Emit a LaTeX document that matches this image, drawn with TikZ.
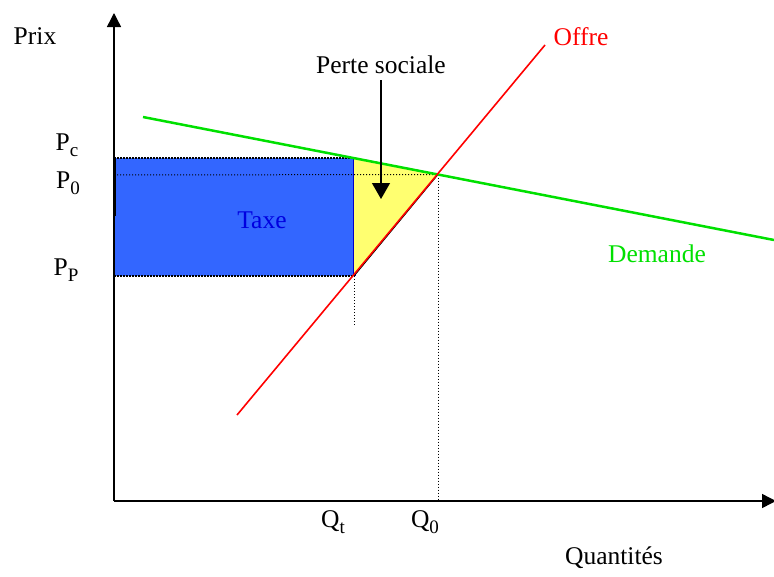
\documentclass[tikz,border=0pt]{standalone}
\usepackage{fontspec}
\setmainfont{Liberation Serif}
\usetikzlibrary{arrows.meta}
\definecolor{taxblue}{HTML}{3366FF}
\definecolor{taxtext}{HTML}{0000E0}
\definecolor{edgeblue}{HTML}{0000C8}
\definecolor{dwlyellow}{HTML}{FFFF70}
\definecolor{demgreen}{HTML}{00E000}
\definecolor{offred}{HTML}{FF0000}
\newcommand{\lowsub}[1]{\raisebox{-0.5ex}{\fontsize{19}{19}\selectfont #1}}
\tikzset{
  lbl/.style={inner sep=0pt, font=\fontsize{25.5}{29}\selectfont},
  axisline/.style={line width=1.4pt, black},
  guide/.style={black, line width=1pt, dotted},
}
\begin{document}
\begin{tikzpicture}[x=1pt,y=-1pt]
\useasboundingbox (0,0) rectangle (774,576);
% key points
\coordinate (O) at (114,501);
\coordinate (Ytop) at (114,13);
\coordinate (Xend) at (776,501);
\coordinate (A) at (354,158);
\coordinate (B) at (438,174.5);
\coordinate (C) at (354,276);
\coordinate (R1) at (114,158);
\coordinate (R2) at (114,276);
\coordinate (P0L) at (114,175);
\coordinate (D1) at (143,117);
\coordinate (D2) at (774,240);
\coordinate (S1) at (237,415);
\coordinate (S2) at (545,45);
\coordinate (Qt) at (354,326);
\coordinate (Q0) at (438,501);
\coordinate (L1) at (114,216);
\coordinate (tip) at (381,199);
% tax rectangle
\fill[taxblue] (R1) rectangle (C);
\draw[black, line width=2pt, densely dotted] (R1) -- (A);
\draw[black, line width=2pt, densely dotted] (R2) -- (C);
\draw[edgeblue, line width=3pt] (A) -- (C);
\draw[black, line width=3pt] (R1) -- (L1);
% deadweight loss triangle
\fill[dwlyellow] (A) -- (B) -- (C) -- cycle;
\draw[black, line width=1pt] (A) -- (B) -- (C);
% guides
\draw[guide] (P0L) -- (B);
\draw[guide] (C) -- (Qt);
\draw[guide] (B) -- (Q0);
% axes
\draw[axisline, -{Triangle[width=14pt,length=14pt]}] (O) -- (Ytop);
\draw[axisline, -{Triangle[width=14pt,length=14pt]}] (O) -- (Xend);
% curves
\draw[demgreen, line width=2.5pt] (D1) -- (D2);
\draw[offred, line width=1.6pt] (S1) -- (S2);
% labels
\node[lbl] (prix) at (35,36) {Prix};
\node[lbl] (pc) at (67,145) {P\lowsub{c}};
\node[lbl] (p0) at (68,183) {P\lowsub{0}};
\node[lbl] (pp) at (66,270) {P\lowsub{P}};
\node[lbl] (qt) at (333,522) {Q\lowsub{t}};
\node[lbl] (q0) at (425,522) {Q\lowsub{0}};
\node[lbl] (quant) at (614,558) {Quantités};
\node[lbl, text=offred] (offre) at (581,37) {Offre};
\node[lbl, text=demgreen] (demande) at (657,254) {Demande};
\node[lbl, text=taxtext] (taxe) at (262,220) {Taxe};
\node[lbl] (perte) at (381,65) {Perte sociale};
\draw[black, line width=1.2pt, -{Triangle[width=18pt,length=16pt]}] (perte.south) ++(0,6) -- (tip);
\end{tikzpicture}
\end{document}
